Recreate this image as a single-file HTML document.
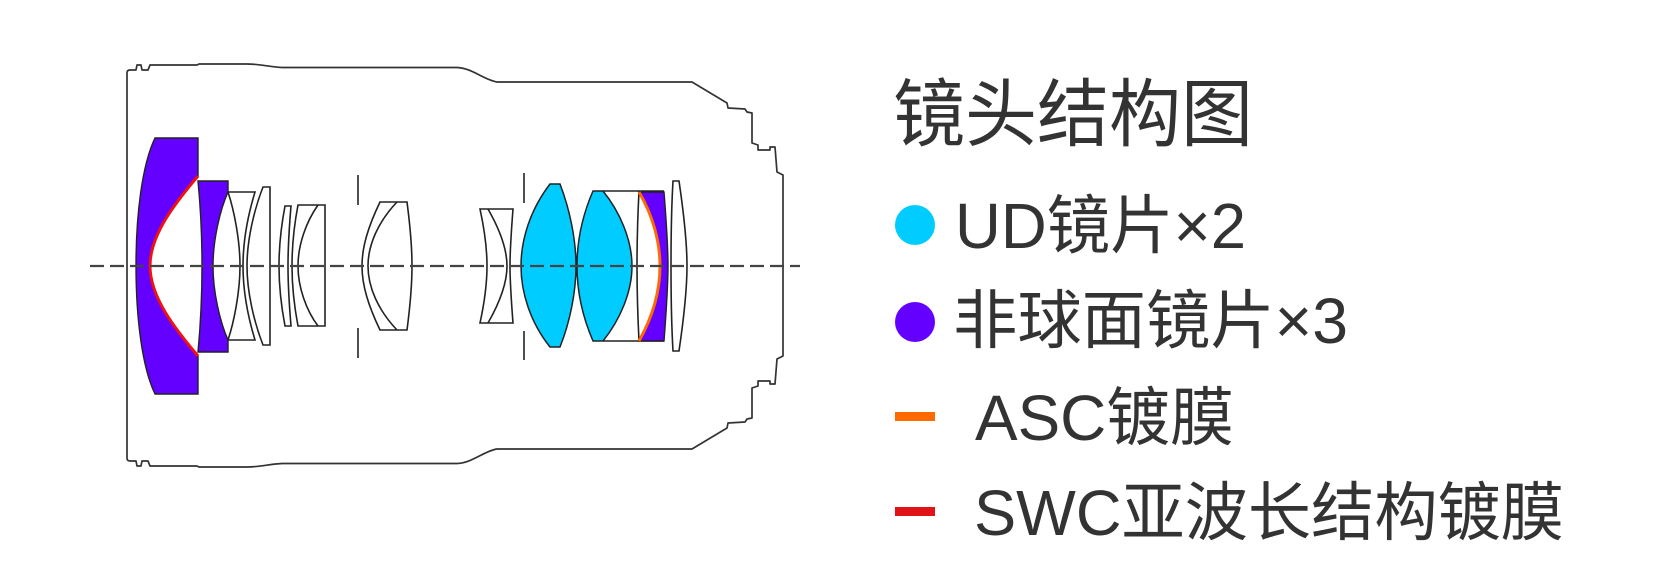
<!DOCTYPE html>
<html>
<head>
<meta charset="utf-8">
<style>
  html, body { margin:0; padding:0; background:#fff; }
  body { width:1675px; height:585px; overflow:hidden; }
  svg { display:block; }
  .t { font-family: "Liberation Sans", "Noto Sans CJK SC", sans-serif; fill:#333; }
</style>
</head>
<body>
<svg width="1675" height="585" viewBox="0 0 1675 585" xmlns="http://www.w3.org/2000/svg">
  <rect x="0" y="0" width="1675" height="585" fill="#fff"/>

  <!-- Barrel outline (top half + mirrored bottom half) -->
  <g fill="none" stroke="#333" stroke-width="1.7" stroke-linejoin="round">
    <path id="barrel" d="M127,265.5 L127,73 Q127,70 130,70 L136,70 L137,65 L141,65 L142,70 L148,70 L150,65 L197,65 L199,64 L247,64 C260,64 270,67 282,67.5 L457,67.5 C472,68 484,80 497,82 L692,82 L727,103 L728,108 L745,109 L747,112 L752,113 L752,143 L758,145 L758,150 L770,150 L770,147 L775,147 L777,172 L783,175 L783,265.5"/>
    <use href="#barrel" transform="translate(0,531) scale(1,-1)"/>
  </g>

  <!-- Lens 1 (aspherical, purple) -->
  <path d="M155,138 L198,138 L198,176 C175,203 150,235 150,266 C150,297 175,329 198,356 L198,394 L155,394 C142,367 136,317 136,266 C136,215 142,165 155,138 Z" fill="#6400ff" stroke="#222" stroke-width="1.4"/>
  <path d="M198,176 C175,203 150,235 150,266 C150,297 175,329 198,356" fill="none" stroke="#ee1111" stroke-width="3"/>

  <!-- Lens 2 (aspherical, purple) -->
  <path d="M198,181 L228,181 L228,192 C220,210 213,240 213,266 C213,292 220,322 228,340 L228,352 L198,352 C201,320 202,290 202,266 C202,242 201,212 198,181 Z" fill="#6400ff" stroke="#222" stroke-width="1.4"/>

  <g fill="none" stroke="#222" stroke-width="1.6">
    <!-- Lens 3 doublet -->
    <path d="M228,192 C234,210 240,240 240,266 C240,292 234,322 228,340"/>
    <path d="M228,192 L255,192 C248,215 243,240 243,266 C243,292 248,317 255,340 L228,340"/>
    <!-- Lens 4 -->
    <path d="M263,187 L270,187 L270,345 L263,345 C254,322 247,292 247,266 C247,240 254,210 263,187 Z"/>
    <!-- Lens 5 -->
    <path d="M285,206 L291,206 C289,230 288,250 288,266 C288,282 289,302 291,326 L285,326 C281,305 279,285 279,266 C279,247 281,227 285,206 Z"/>
    <!-- Lens 6 doublet -->
    <path d="M298,205 L325,205 L325,326 L298,326 C294,305 292,285 292,266 C292,247 294,226 298,205 Z"/>
    <path d="M318,205 C306,222 298,245 298,266 C298,287 306,310 318,326"/>
    <!-- Aperture 1 -->
    <path d="M358,175 L358,205 M358,328 L358,358"/>
    <!-- Lens 7 doublet -->
    <path d="M380,202 L407,202 C410,225 412,245 412,266 C412,287 410,307 407,330 L380,330 C368,305 362,285 362,266 C362,247 368,227 380,202 Z"/>
    <path d="M397,202 C378,222 368,245 368,266 C368,287 378,310 397,330"/>
    <!-- Lens 8 doublet -->
    <path d="M480,209 L513,209 C511,235 510,250 510,266 C510,282 511,297 513,323 L480,323 C485,300 487,282 487,266 C487,250 485,232 480,209 Z"/>
    <path d="M488,209 C500,230 507,250 507,266 C507,282 500,302 488,323"/>
    <!-- Aperture 2 -->
    <path d="M524,173 L524,203 M524,331 L524,360"/>
  </g>

  <!-- UD lenses -->
  <path d="M550,184 L560,184 C570,210 576,240 576,266 C576,292 570,322 560,347 L550,347 C530,322 521,292 521,266 C521,240 530,210 550,184 Z" fill="#00ccff" stroke="#222" stroke-width="1.5"/>
  <path d="M593,191 L603,191 C620,212 632,240 632,266 C632,292 620,320 603,341 L593,341 C583,318 577,292 577,266 C577,240 583,214 593,191 Z" fill="#00ccff" stroke="#222" stroke-width="1.5"/>

  <g fill="none" stroke="#222" stroke-width="1.6">
    <path d="M603,191 L664,191 M603,341 L664,341"/>
    <path d="M639,191 C637,230 637,250 637,266 C637,282 637,302 639,341"/>
  </g>
  <!-- Aspherical purple w/ ASC -->
  <path d="M639,192 L664,192 C667,230 668,250 668,266 C668,282 667,302 664,341 L639,341 C652,318 660,292 660,266 C660,240 652,214 639,192 Z" fill="#6400ff" stroke="#222" stroke-width="1.4"/>
  <path d="M639,192 C652,214 660,240 660,266 C660,292 652,318 639,341" fill="none" stroke="#ff6a00" stroke-width="3"/>

  <!-- Last lens -->
  <path d="M673,181 L679,181 C684,215 687,245 687,266 C687,287 684,317 679,351 L673,351 C671,317 671,287 671,266 C671,245 671,215 673,181 Z" fill="none" stroke="#222" stroke-width="1.6"/>

  <!-- Optical axis -->
  <line x1="90" y1="266" x2="800" y2="266" stroke="#444" stroke-width="2.2" stroke-dasharray="14 6"/>

  <!-- Legend -->
  <text class="t" x="893" y="140" font-size="74" textLength="360" lengthAdjust="spacingAndGlyphs">镜头结构图</text>

  <circle cx="915" cy="225" r="20" fill="#00ccff"/>
  <text class="t" x="955" y="248" font-size="64" textLength="291" lengthAdjust="spacingAndGlyphs">UD镜片×2</text>

  <circle cx="915" cy="322" r="20" fill="#6400ff"/>
  <text class="t" x="953" y="343" font-size="64" textLength="395" lengthAdjust="spacingAndGlyphs">非球面镜片×3</text>

  <rect x="895" y="412" width="40" height="9" fill="#ff6a00"/>
  <text class="t" x="975" y="440" font-size="64" textLength="259" lengthAdjust="spacingAndGlyphs">ASC镀膜</text>

  <rect x="895" y="507" width="40" height="9" fill="#e01418"/>
  <text class="t" x="974" y="535" font-size="64" textLength="590" lengthAdjust="spacingAndGlyphs">SWC亚波长结构镀膜</text>
</svg>
</body>
</html>
